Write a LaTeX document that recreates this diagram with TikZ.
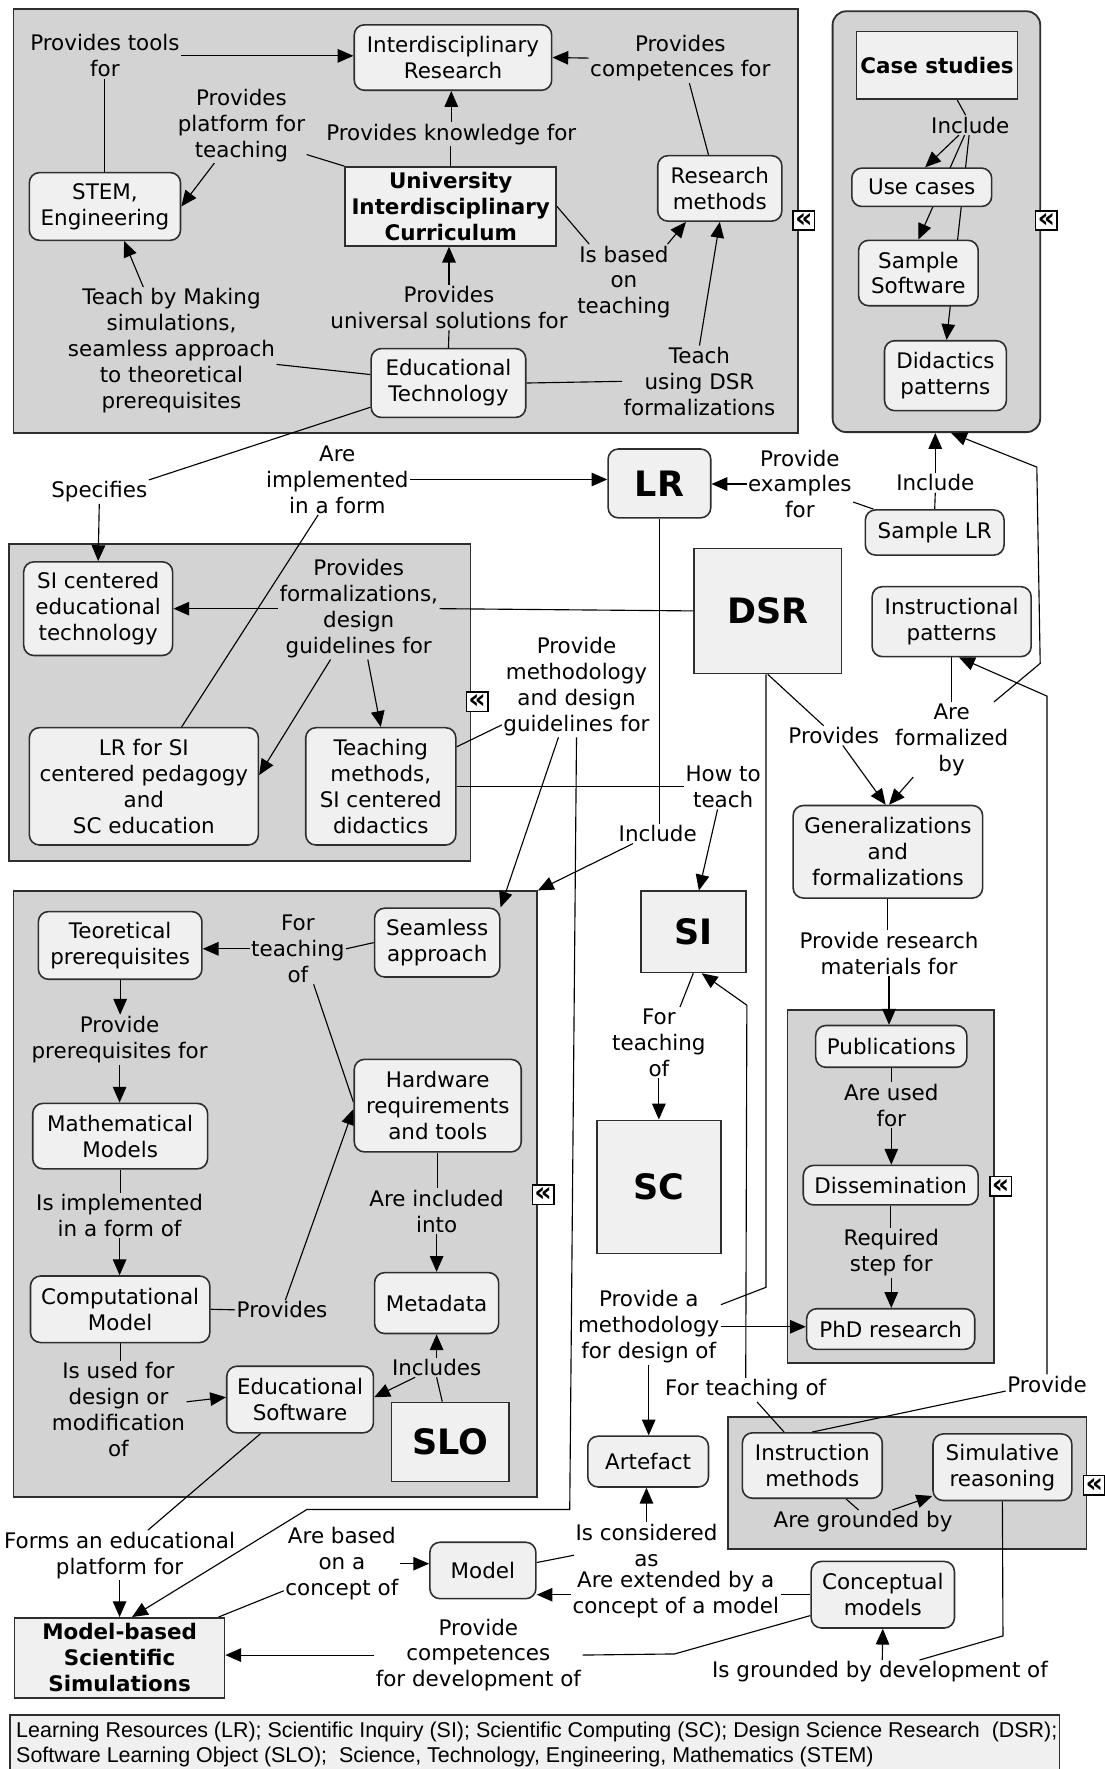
\documentclass[tikz,border=0pt]{standalone}
\usepackage{fontspec}
\setmainfont{DejaVu Sans}
\newfontfamily\legfont{Liberation Sans}
\usetikzlibrary{arrows.meta,calc}
\definecolor{grpgray}{HTML}{D3D3D3}
\definecolor{ndgray}{HTML}{F0F0F0}
\definecolor{bord}{HTML}{2E2E2E}
\newcommand\myf{\fontsize{9.5pt}{11.5pt}\selectfont}
\newcommand\mybf{\fontsize{9.5pt}{11.5pt}\selectfont\bfseries}
\newcommand\mybig{\fontsize{15.5pt}{18pt}\selectfont\bfseries}
\newcommand\myleg{\legfont\fontsize{9.5pt}{11pt}\selectfont}
\pgfdeclarelayer{grp}
\pgfdeclarelayer{edges}
\pgfsetlayers{grp,edges,main}
\tikzset{
 wh/.style 2 args={minimum width=#1*0.5pt, minimum height=#2*0.5pt},
 grp/.style={draw=bord, line width=0.8pt, fill=grpgray, inner sep=0pt},
 cn/.style={draw=bord, line width=0.7pt, fill=ndgray, rounded corners=4.5pt, inner sep=0pt, align=center, font=\myf},
 sq/.style={draw=bord, line width=0.7pt, fill=ndgray, inner sep=0pt, align=center, font=\mybf},
 big/.style={sq, font=\mybig},
 lbl/.style={inner sep=0.5pt, align=center, font=\myf},
 ln/.style={line width=0.5pt},
 arr/.style={line width=0.5pt, -{Triangle[length=7pt,width=6pt]}},
 clp/.style={draw=black, fill=white, line width=0.65pt, inner sep=0pt, minimum width=9.5pt, minimum height=8.5pt, font=\fontsize{12pt}{12pt}\selectfont\bfseries},
}
\begin{document}
\begin{tikzpicture}[x=0.5pt,y=-0.5pt]
\useasboundingbox (0,0) rectangle (979,1568);
\begin{pgfonlayer}{grp}
\node[grp, wh={695}{376}] (G1) at (359.5,196) {};
\node[grp, rounded corners=6pt, wh={184}{373}] (G2) at (830,196.5) {};
\node[grp, wh={409}{281}] (G3) at (212.5,622.5) {};
\node[grp, wh={464}{537}] (G4) at (244,1058.5) {};
\node[grp, wh={183}{313}] (G5) at (789.5,1051.5) {};
\node[grp, wh={318}{117}] (G6) at (804,1314.5) {};
\end{pgfonlayer}
% concept nodes
\node[cn, wh={175}{58}] (IR) at (401.5,51) {Interdisciplinary\\Research};
\node[sq, wh={187}{70}] (UIC) at (399.5,183) {University\\Interdisciplinary\\Curriculum};
\node[cn, wh={134}{60}] (STEM) at (93,183) {STEM,\\Engineering};
\node[cn, wh={110}{58}] (RM) at (638,167) {Research\\methods};
\node[cn, wh={137}{61}] (ET) at (397.5,339.5) {Educational\\Technology};
\node[sq, wh={143}{60}] (CS) at (830.5,58) {Case studies};
\node[cn, wh={124}{34}] (UC) at (817,166) {Use cases};
\node[cn, wh={106}{58}] (SS) at (814,242) {Sample\\Software};
\node[cn, wh={108}{62}] (DP) at (838,333) {Didactics\\patterns};
\node[cn, font=\mybig, wh={91}{61}] (LR) at (584.5,428.5) {LR};
\node[cn, wh={123}{40}] (SLR) at (828.5,472) {Sample LR};
\node[big, wh={131}{111}] (DSR) at (680.5,541.5) {DSR};
\node[cn, wh={141}{62}] (IP) at (843.5,551) {Instructional\\patterns};
\node[cn, wh={132}{83}] (SICET) at (87,539.5) {SI centered\\educational\\technology};
\node[cn, wh={203}{104}] (LRSI) at (127.5,697) {LR for SI\\centered pedagogy\\and\\SC education};
\node[cn, wh={133}{104}] (TM) at (337.5,697) {Teaching\\methods,\\SI centered\\didactics};
\node[cn, wh={168}{82}] (GF) at (787,755) {Generalizations\\and\\formalizations};
\node[big, wh={93}{72}] (SI) at (614.5,826) {SI};
\node[big, wh={110}{118}] (SC) at (584,1052) {SC};
\node[cn, wh={134}{37}] (PUB) at (790,927.5) {Publications};
\node[cn, wh={155}{35}] (DIS) at (789.5,1050.5) {Dissemination};
\node[cn, wh={149}{36}] (PHD) at (789.5,1178) {PhD research};
\node[cn, wh={145}{60}] (TP) at (106.5,838) {Teoretical\\prerequisites};
\node[cn, wh={111}{61}] (SA) at (387.5,835.5) {Seamless\\approach};
\node[cn, wh={155}{58}] (MM) at (106.5,1007) {Mathematical\\Models};
\node[cn, wh={148}{82}] (HW) at (388,980) {Hardware\\requirements\\and tools};
\node[cn, wh={159}{59}] (CM) at (106.5,1160.5) {Computational\\Model};
\node[cn, wh={110}{54}] (MD) at (387,1155) {Metadata};
\node[cn, wh={130}{59}] (ES) at (266,1240.5) {Educational\\Software};
\node[big, wh={104}{70}] (SLO) at (399,1278) {SLO};
\node[cn, wh={107}{45}] (ART) at (574.5,1295.5) {Artefact};
\node[cn, wh={124}{58}] (INM) at (720,1299) {Instruction\\methods};
\node[cn, wh={123}{59}] (SR) at (888.5,1300.5) {Simulative\\reasoning};
\node[cn, wh={94}{50}] (MOD) at (428,1392) {Model};
\node[cn, wh={127}{59}] (CON) at (782.5,1413.5) {Conceptual\\models};
\node[sq, wh={186}{71}] (MBSS) at (106,1469.5) {Model-based\\Scientific\\Simulations};
% linking phrases
\node[lbl] (L1) at (93,49.5) {Provides tools\\for};
\node[lbl] (L2) at (603,51.5) {Provides\\competences for};
\node[lbl] (L3) at (214,111) {Provides\\platform for\\teaching};
\node[lbl] (L4) at (400,119) {Provides knowledge for};
\node[lbl] (L5) at (553,250) {Is based\\on\\teaching};
\node[lbl] (L6) at (152,311) {Teach by Making\\simulations,\\seamless approach\\to theoretical\\prerequisites};
\node[lbl] (L7) at (398,272.5) {Provides\\universal solutions for};
\node[lbl] (L8) at (620,338) {Teach\\using DSR\\formalizations};
\node[lbl] (L9) at (860,111) {Include};
\node[lbl] (L10) at (829,428) {Include};
\node[lbl] (L11) at (709,429) {Provide\\examples\\for};
\node[lbl] (L12) at (88,436) {Specifies};
\node[lbl] (L13) at (299,425) {Are\\implemented\\in a form};
\node[lbl] (L14) at (318,539.5) {Provides\\formalizations,\\design\\guidelines for};
\node[lbl] (L15) at (511,608.5) {Provide\\methodology\\and design\\guidelines for};
\node[lbl] (L16) at (641,697.5) {How to\\teach};
\node[lbl] (L17) at (583,739) {Include};
\node[lbl] (L18) at (739,652) {Provides};
\node[lbl] (L19) at (843.5,655.5) {Are\\formalized\\by};
\node[lbl] (L20) at (788,845) {Provide research\\materials for};
\node[lbl] (L21) at (584,924) {For\\teaching\\of};
\node[lbl] (L22) at (790,979.5) {Are used\\for};
\node[lbl] (L23) at (790,1110.5) {Required\\step for};
\node[lbl] (L24) at (575,1176) {Provide a\\methodology\\for design of};
\node[lbl] (L25) at (661,1232) {For teaching of};
\node[lbl] (L26) at (928,1227) {Provide};
\node[lbl] (L27) at (765,1349) {Are grounded by};
\node[lbl] (L28) at (780,1482) {Is grounded by development of};
\node[lbl] (L29) at (599,1413.5) {Are extended by a\\concept of a model};
\node[lbl] (L30) at (573,1369.5) {Is considered\\as};
\node[lbl] (L31) at (303,1386) {Are based\\on a\\concept of};
\node[lbl] (L32) at (106,1378.5) {Forms an educational\\platform for};
\node[lbl] (L33) at (424,1467) {Provide\\competences\\for development of};
\node[lbl] (L34) at (264,841) {For\\teaching\\of};
\node[lbl] (L35) at (106,921.5) {Provide\\prerequisites for};
\node[lbl] (L36) at (106,1077.5) {Is implemented\\in a form of};
\node[lbl] (L37) at (250,1161) {Provides};
\node[lbl] (L38) at (387,1073.5) {Are included\\into};
\node[lbl] (L39) at (387,1212) {Includes};
\node[lbl] (L40) at (105,1249.5) {Is used for\\design or\\modification\\of};
% collapse icons
\node[clp] (K1) at (712.5,195.5) {«};
\node[clp] (K2) at (927.5,195.5) {«};
\node[clp] (K3) at (423,622) {«};
\node[clp] (K4) at (481.5,1059) {«};
\node[clp] (K5) at (887,1051.5) {«};
\node[clp] (K6) at (970,1316.5) {«};
% bend points
\coordinate (c1) at (505,1338);
\coordinate (c2) at (272,1338);
\coordinate (d1) at (679,1141);
\coordinate (p1) at (928,617);
\coordinate (q1) at (922,588);
\coordinate (q2) at (919,414);
\coordinate (s1) at (662,891);
\coordinate (r1) at (889,1450);
\coordinate (k1) at (598,1466);
% legend
\draw[fill=ndgray, draw=bord, line width=0.6pt] (9,1520) rectangle (939,1580);
\node[anchor=north west, align=left, inner sep=0pt, font=\myleg] (LEG) at (14,1526) {Learning Resources (LR); Scientific Inquiry (SI); Scientific Computing (SC); Design Science Research\ \ (DSR);\\Software Learning Object (SLO);\ \ Science, Technology, Engineering, Mathematics (STEM)};
\begin{pgfonlayer}{edges}
% G1
\draw[ln] (STEM.north) -- (L1.south);
\draw[arr] (L1.east) -- (L1.east -| IR.west);
\draw[ln] (ET.north) -- (L7.south);
\draw[arr] (L7.north) -- (L7.north |- UIC.south);
\draw[ln] (UIC.north) -- (UIC.north |- L4.south);
\draw[arr] (L4.north) -- (L4.north |- IR.south);
\draw[ln] (UIC.north west) -- ([yshift=-13pt]L3.east);
\draw[arr] ([xshift=-12pt]L3.south) -- (STEM.east);
\draw[ln] ([yshift=3.75pt]ET.west) -- ([yshift=-6pt]L6.east);
\draw[arr] ([xshift=-12.5pt]L6.north) -- ([xshift=8.5pt]STEM.south);
\draw[ln] ([xshift=-5pt]RM.north) -- ([xshift=4pt]L2.south);
\draw[arr] (L2.west) -- (IR.east);
\draw[ln] (UIC.east) -- ([xshift=6pt]L5.north west);
\draw[arr] ([xshift=-2pt]L5.north east) -- ([xshift=-15pt]RM.south);
\draw[ln] (ET.east) -- (L8.west);
\draw[arr] (L8.north) -- (RM.south);
% G2
\draw[ln] ([xshift=9pt]CS.south) -- ([xshift=-2pt]L9.north);
\draw[arr] ([xshift=-5pt]L9.south) -- ([xshift=1.5pt]UC.north);
\draw[arr] ([xshift=-2.5pt]L9.south) -- (SS.north);
\draw[arr] ([xshift=-0.5pt]L9.south) -- ([xshift=0.5pt]DP.north);
\draw[ln] (SLR.north) -- (L10.south);
\draw[arr] (L10.north) -- (L10.north |- G2.south);
\draw[ln] ([xshift=4pt]SLR.north west) -- ([yshift=-8pt]L11.east);
\draw[arr] (L11.west) -- (L11.west -| LR.east);
% ET / LR
\draw[ln] ([yshift=-10.75pt]ET.west) -- (L12.north east);
\draw[arr] (L12.south) -- (SICET.north);
\draw[arr] (L13.east) -- (L13.east -| LR.west);
\draw[ln] ([xshift=16.75pt]LRSI.north) -- ([xshift=-8.5pt]L13.south);
% DSR area
\draw[ln] (DSR.west) -- (L14.east);
\draw[arr] (L14.west) -- (L14.west -| SICET.east);
\draw[arr] ([xshift=-12.5pt]L14.south) -- ([yshift=5pt]LRSI.east);
\draw[arr] ([xshift=4pt]L14.south) -- (TM.north);
\draw[ln] ([yshift=17.5pt]TM.east) -- ([yshift=-17pt]L15.west);
\draw[arr] ([xshift=-8pt]L15.south) -- (SA.north east);
\draw[arr] (L15.south) -- (c1) -- (c2) -- ([xshift=5.5pt]MBSS.north);
\draw[ln] (TM.east) -- (TM.east -| L16.west);
\draw[arr] ([xshift=-2.5pt]L16.south) -- ([xshift=2.5pt]SI.north);
\draw[ln] (LR.south) -- (LR.south |- L17.north);
\draw[arr] ([xshift=7pt]L17.south west) -- (G4.north east);
\draw[ln] (DSR.south) -- ([xshift=-4.5pt]L18.north);
\draw[arr] ([xshift=4pt]L18.south) -- ([xshift=-1pt]GF.north);
\draw[ln] ([xshift=-0.75pt]DSR.south) -- (d1) -- ([yshift=-7pt]L24.north east);
\draw[arr] (L24.east) -- (L24.east -| PHD.west);
\draw[arr] (L24.south) -- (L24.south |- ART.north);
\draw[ln] (IP.south) -- (IP.south |- L19.north);
\draw[arr] ([xshift=-17pt]L19.south) -- ([xshift=0.5pt]GF.north);
\draw[arr] ([xshift=-7pt]L19.north east) -- (q1) -- (q2) -- ([xshift=6.5pt]G2.south);
\draw[ln] (GF.south) -- (GF.south |- L20.north);
\draw[arr] (L20.south) -- (L20.south |- PUB.north);
\draw[ln] (PUB.south) -- (PUB.south |- L22.north);
\draw[arr] (L22.south) -- (L22.south |- DIS.north);
\draw[ln] (DIS.south) -- (DIS.south |- L23.north);
\draw[arr] (L23.south) -- (L23.south |- PHD.north);
% SI / SC
\draw[ln] (SI.south) -- ([xshift=-12pt]L21.north east);
\draw[arr] (L21.south) -- (L21.south |- SC.north);
\draw[ln] ([xshift=-12.5pt]INM.north) -- ([xshift=5pt]L25.south);
\draw[arr] (L25.north) -- (s1) -- ([xshift=3.75pt]SI.south);
\draw[ln] (INM.north) -- ([yshift=-3pt]L26.west);
\draw[arr] (L26.north) -- (p1) -- ([xshift=3.25pt]IP.south);
% G6 and bottom
\draw[ln] ([xshift=15pt]INM.south) -- ([xshift=-2pt]L27.north);
\draw[arr] ([xshift=13pt]L27.north) -- ([yshift=-12.75pt]SR.west);
\draw[ln] (SR.south) -- (r1) -- ([xshift=17.5pt]L28.north);
\draw[arr] ([xshift=1pt]L28.north) -- (CON.south);
\draw[ln] (CON.west) -- (L29.east);
\draw[arr] (L29.west) -- (L29.west -| MOD.east);
\draw[ln] ([yshift=-9.25pt]CON.west) -- (k1) -- (L33.east);
\draw[arr] (L33.west) -- (L33.west -| MBSS.east);
\draw[ln] ([yshift=3.5pt]MOD.east) -- ([yshift=-4.5pt]L30.west);
\draw[arr] (L30.north) -- (L30.north |- ART.south);
\draw[ln] ([xshift=-3pt]MBSS.north east) -- ([yshift=-12pt]L31.west);
\draw[arr] (L31.east) -- (L31.east -| MOD.west);
\draw[ln] ([xshift=-17.5pt]ES.south) -- ([xshift=12.5pt]L32.north);
\draw[arr] (L32.south) -- (MBSS.north);
% G4
\draw[ln] (SA.west) -- (L34.east);
\draw[arr] (L34.west) -- (L34.west -| TP.east);
\draw[ln] ([xshift=7pt]L34.south) -- ([yshift=1.5pt]HW.west);
\draw[ln] (CM.east) -- (L37.west);
\draw[arr] ([xshift=1.5pt]L37.north) -- ([yshift=-1.5pt]HW.west);
\draw[arr] (TP.south) -- (TP.south |- L35.north);
\draw[arr] (L35.south) -- (L35.south |- MM.north);
\draw[ln] (MM.south) -- (MM.south |- L36.north);
\draw[arr] (L36.south) -- (L36.south |- CM.north);
\draw[ln] (HW.south) -- (HW.south |- L38.north);
\draw[arr] (L38.south) -- (L38.south |- MD.north);
\draw[ln] ([xshift=-3.5pt]SLO.north) -- (L39.south);
\draw[arr] (L39.north) -- (L39.north |- MD.south);
\draw[arr] ([xshift=-9.5pt]L39.south) -- ([yshift=1pt]ES.east);
\draw[ln] (CM.south) -- (CM.south |- L40.north);
\draw[arr] ([yshift=3.5pt]L40.east) -- ([yshift=1pt]ES.west);
\end{pgfonlayer}
\end{tikzpicture}
\end{document}
